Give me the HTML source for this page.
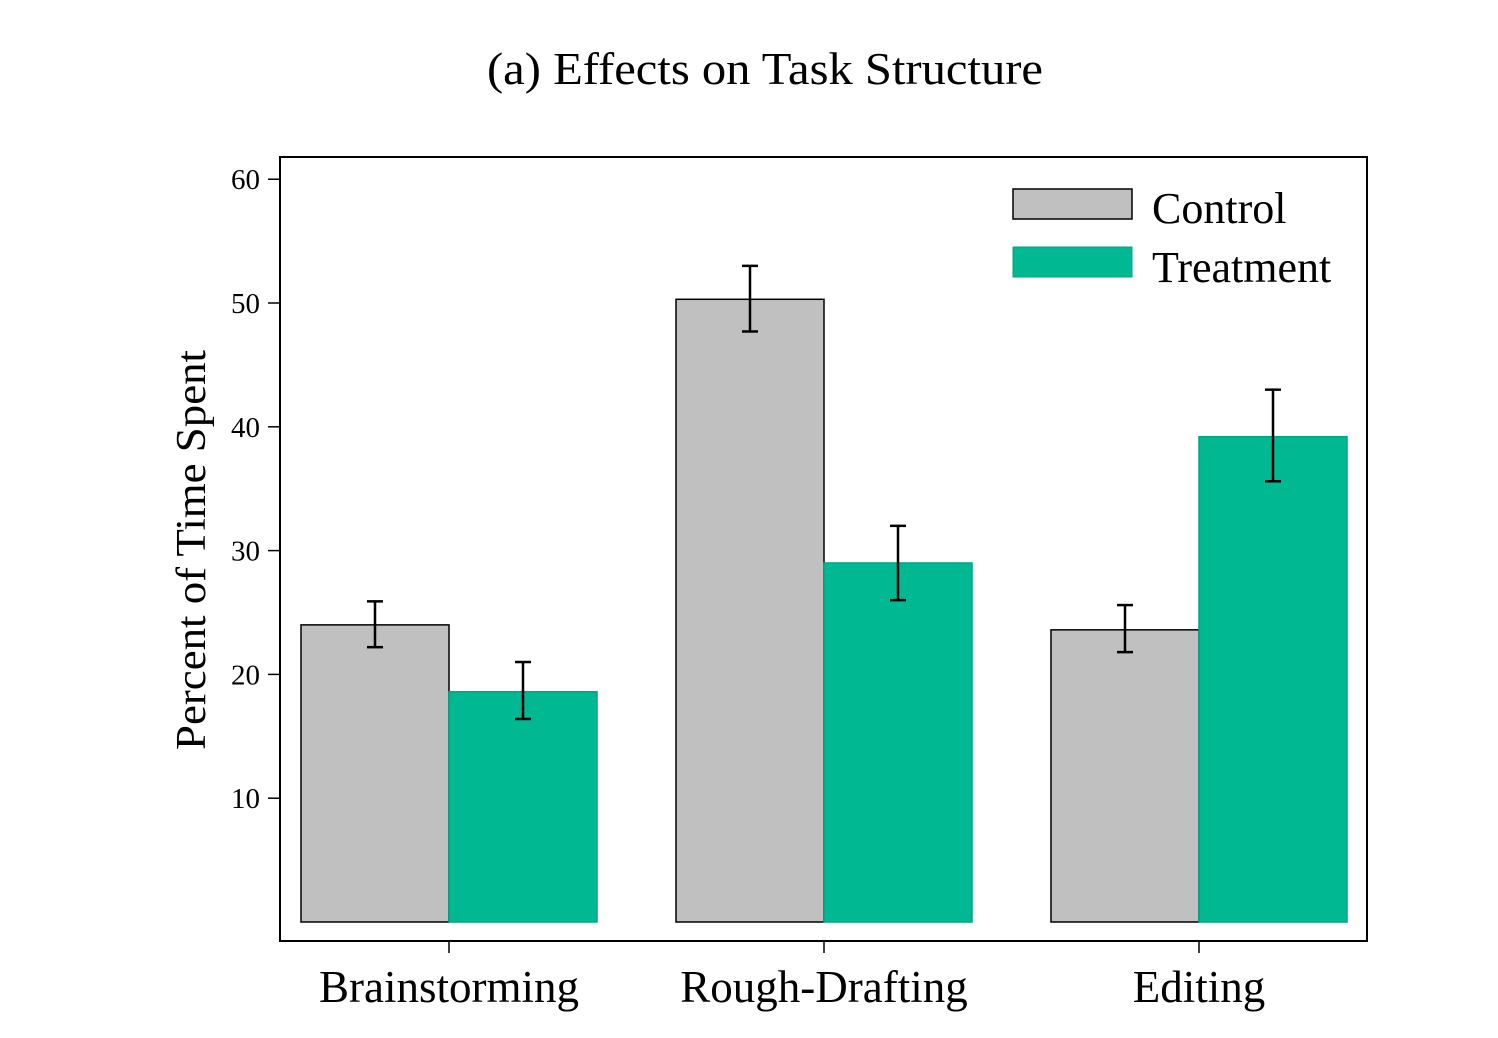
<!DOCTYPE html>
<html><head><meta charset="utf-8"><style>
html,body{margin:0;padding:0;background:#fff}
svg{display:block}
text{font-family:"Liberation Serif",serif;fill:#000}
</style></head><body>
<svg id="chart" width="1498" height="1038" viewBox="0 0 1498 1038">
<text x="765" y="84" font-size="46" textLength="556" lengthAdjust="spacingAndGlyphs" text-anchor="middle">(a) Effects on Task Structure</text>
<rect x="280" y="157" width="1087" height="784" fill="none" stroke="#000" stroke-width="2"/>
<text transform="translate(205,550) rotate(-90)" font-size="42" textLength="400" lengthAdjust="spacingAndGlyphs" text-anchor="middle">Percent of Time Spent</text>
<g id="yaxis"></g>
<g id="xaxis"></g>
<g id="bars"></g>
<g>
<rect x="1013" y="189" width="119" height="30" fill="#c0c0c0" stroke="#000" stroke-width="1.5"/>
<text x="1152" y="223" font-size="44">Control</text>
<rect x="1013" y="247" width="119" height="30" fill="#00b993" stroke="#00a582" stroke-width="1"/>
<text x="1152" y="282" font-size="44">Treatment</text>
</g>
</svg>
<script>
const categories = ["Brainstorming","Rough-Drafting","Editing"];
const controlValues = [24.0, 50.3, 23.6];
const controlLow = [22.2, 47.7, 21.8];
const controlHigh = [25.9, 53.0, 25.6];
const treatmentValues = [18.6, 29.0, 39.2];
const treatmentLow = [16.4, 26.0, 35.6];
const treatmentHigh = [21.0, 32.0, 43.0];
const yTicks = [10,20,30,40,50,60];

const NS="http://www.w3.org/2000/svg";
const y = v => 922 - v*12.38;
const xc = i => 449 + i*375;
const BW = 148;
function mk(tag, attrs, parent){const e=document.createElementNS(NS,tag);for(const k in attrs)e.setAttribute(k,attrs[k]);parent.appendChild(e);return e;}
const ya=document.getElementById('yaxis'), xa=document.getElementById('xaxis'), bars=document.getElementById('bars');
yTicks.forEach(t=>{
  const l=mk('line',{x1:268,x2:280,y1:y(t),y2:y(t),stroke:'#000','stroke-width':1.5},ya);
  
  
  const tx=mk('text',{x:260,y:y(t)+10,'font-size':29,'text-anchor':'end'},ya);
  tx.textContent=t;
  
  
});
categories.forEach((c,i)=>{
  const l=mk('line',{x1:xc(i),x2:xc(i),y1:941,y2:953,stroke:'#000','stroke-width':1.5},xa);
  
  
  const tx=mk('text',{x:xc(i),y:1002,'font-size':45,'text-anchor':'middle'},xa);
  tx.textContent=c;
  
  
  [[controlValues,controlLow,controlHigh,-BW,'#c0c0c0','#000','control'],[treatmentValues,treatmentLow,treatmentHigh,0,'#00b993','#00a582','treatment']].forEach(s=>{
    const v=s[0][i];
    const r=mk('rect',{x:xc(i)+s[3],y:y(v),width:BW,height:y(0)-y(v),fill:s[4],stroke:s[5],'stroke-width':1.5},bars);
    
    
    const cx=xc(i)+s[3]+BW/2, lo=y(s[1][i]), hi=y(s[2][i]);
    const g=mk('g',{stroke:'#000','stroke-width':2.5},bars);
    
    
    mk('line',{x1:cx,x2:cx,y1:lo,y2:hi},g);
    mk('line',{x1:cx-8,x2:cx+8,y1:lo,y2:lo},g);
    mk('line',{x1:cx-8,x2:cx+8,y1:hi,y2:hi},g);
  });
});
</script>
</body></html>
